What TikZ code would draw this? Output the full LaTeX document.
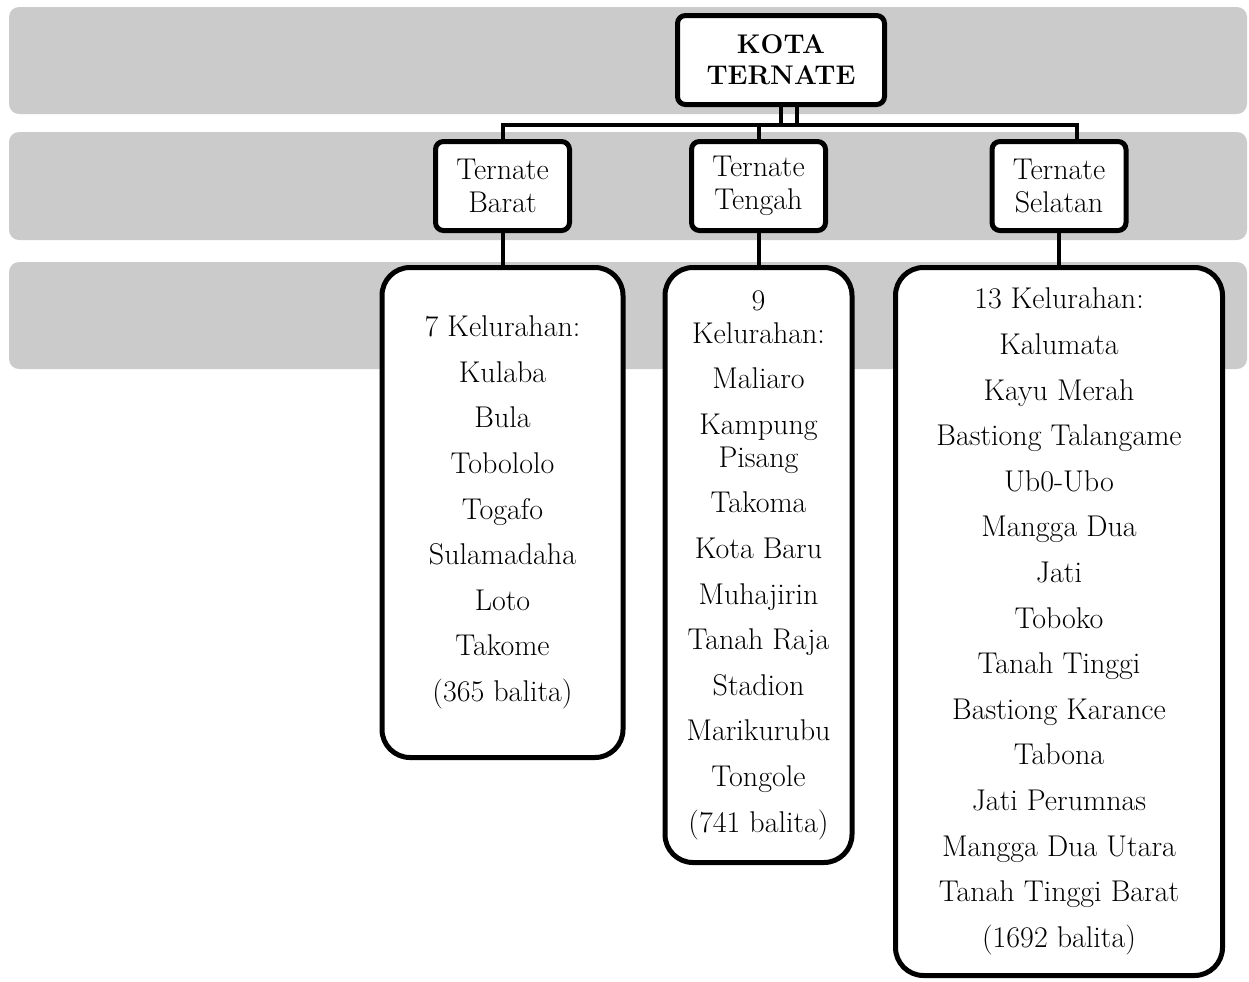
\documentclass[tikz,border=0pt]{standalone}
\usepackage{fontspec}
\usetikzlibrary{positioning}
\definecolor{band}{HTML}{CBCBCB}
\tikzset{
  lvl/.style={fill=band,rounded corners=5pt},
  box/.style={draw,fill=white,line width=2.5pt,rounded corners=4pt,align=center,inner sep=0pt,font=\fontsize{15}{16.5}\selectfont},
  link/.style={line width=2pt},
}

\begin{document}
\begin{tikzpicture}[x=0.5pt,y=-0.5pt]
\tikzset{
  kec/.style={box,minimum width=67pt,minimum height=44.5pt},
  kel/.style={box,rounded corners=14pt},
}
\useasboundingbox (0,0) rectangle (1249,981);
% level bands
\fill[lvl] (9,7) rectangle (1247,114);
\fill[lvl] (9,132) rectangle (1247,240);
\fill[lvl] (9,262) rectangle (1247,369);
% kota
\node[box,minimum width=103.5pt,minimum height=44.5pt,font={\fontsize{13.5}{15.5}\selectfont\bfseries}] (kota) at (781,60) {KOTA\\TERNATE};
% kecamatan
\node[kec] (barat)   at (502.5,186) {Ternate\\Barat};
\node[kec] (tengah)  at (758.5,186) {Ternate\\Tengah};
\node[kec] (selatan) at (1059,186)  {Ternate\\Selatan};
% kelurahan
\node[kel,minimum width=120.5pt,minimum height=245pt] (baratKel) at (502.5,512.5)
  {7 Kelurahan:\\[6.3pt]Kulaba\\[6.3pt]Bula\\[6.3pt]Tobololo\\[6.3pt]Togafo\\[6.3pt]Sulamadaha\\[6.3pt]Loto\\[6.3pt]Takome\\[6.3pt](365 balita)};
\node[kel,minimum width=93.5pt,minimum height=297.5pt] (tengahKel) at (758.5,565)
  {9\\Kelurahan:\\[6.3pt]Maliaro\\[6.3pt]Kampung\\Pisang\\[6.3pt]Takoma\\[6.3pt]Kota Baru\\[6.3pt]Muhajirin\\[6.3pt]Tanah Raja\\[6.3pt]Stadion\\[6.3pt]Marikurubu\\[6.3pt]Tongole\\[6.3pt](741 balita)};
\node[kel,minimum width=163.5pt,minimum height=354pt] (selatanKel) at (1059,621.5)
  {13 Kelurahan:\\[6.3pt]Kalumata\\[6.3pt]Kayu Merah\\[6.3pt]Bastiong Talangame\\[6.3pt]Ub0-Ubo\\[6.3pt]Mangga Dua\\[6.3pt]Jati\\[6.3pt]Toboko\\[6.3pt]Tanah Tinggi\\[6.3pt]Bastiong Karance\\[6.3pt]Tabona\\[6.3pt]Jati Perumnas\\[6.3pt]Mangga Dua Utara\\[6.3pt]Tanah Tinggi Barat\\[6.3pt](1692 balita)};
% connectors
\coordinate (stubA) at (781,125);
\coordinate (stubB) at (797,125);
\coordinate (busR) at (1077,125);
\draw[link] (stubA |- kota.south) -- (stubA);
\draw[link] (stubB |- kota.south) -- (stubB);
\draw[link] (barat.north) |- (busR) -- (busR |- selatan.north);
\draw[link] (tengah.north) -- (tengah.north |- busR);
\draw[link] (barat.south) -- (baratKel.north);
\draw[link] (tengah.south) -- (tengahKel.north);
\draw[link] (selatan.south) -- (selatan.south |- selatanKel.north);
\end{tikzpicture}
\end{document}
